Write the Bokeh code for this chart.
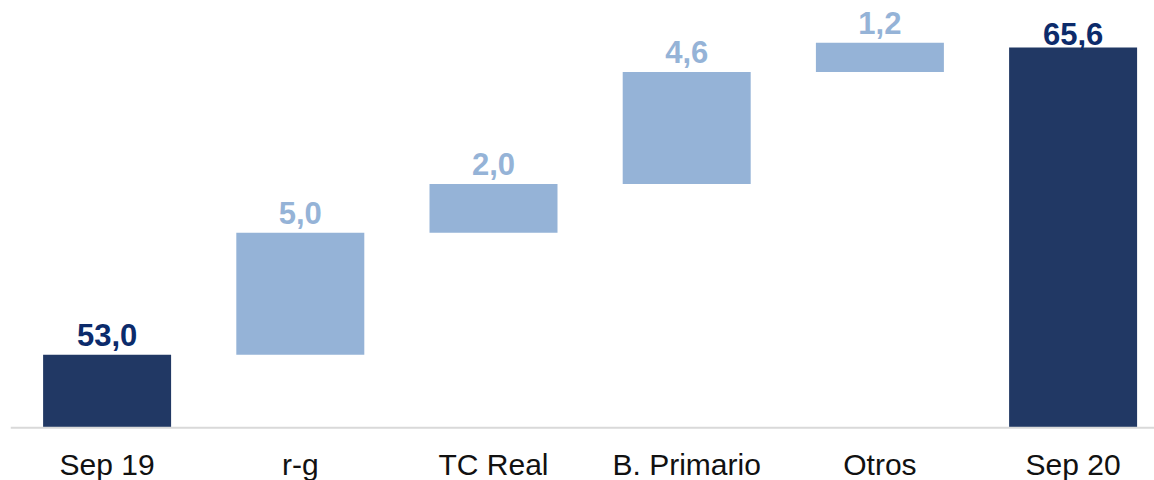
from bokeh.plotting import figure
from bokeh.models import ColumnDataSource, Range1d, FixedTicker, Span
from bokeh.core.properties import value
from bokeh.embed import file_html
from bokeh.resources import INLINE

categories = ["Sep 19", "r-g", "TC Real", "B. Primario", "Otros", "Sep 20"]
values = [53.0, 5.0, 2.0, 4.6, 1.2, 65.6]
kinds = ["total", "delta", "delta", "delta", "delta", "total"]
labels = ["53,0", "5,0", "2,0", "4,6", "1,2", "65,6"]

base = 50.0
DARK = "#213864"
LIGHT = "#95b3d7"
DARK_TXT = "#0c2b6b"

# waterfall geometry from values
bottoms, tops = [], []
running = 0.0
for v, k in zip(values, kinds):
    if k == "total":
        bottoms.append(base)
        tops.append(v)
        running = v
    else:
        bottoms.append(running)
        tops.append(running + v)
        running += v

xs = list(range(len(categories)))
fills = [DARK if k == "total" else LIGHT for k in kinds]
txt_colors = [DARK_TXT if k == "total" else LIGHT for k in kinds]
label_offsets = [-20, -20, -20, -20, -20, -14]

src = ColumnDataSource(dict(x=xs, bottom=bottoms, top=tops, fill=fills,
                            label=labels, tcol=txt_colors, yoff=label_offsets))

p = figure(output_backend="svg", toolbar_location=None,
           frame_width=1144, frame_height=422,
           x_range=Range1d(-0.5, -0.5 + 1144 / 193.2),
           y_range=Range1d(49.889, 67.2),
           y_axis_location=None,
           min_border_left=10, min_border_right=0, min_border_top=8, min_border_bottom=0)

p.vbar(x="x", bottom="bottom", top="top", width=0.6625, fill_color="fill",
       line_color=None, source=src)

p.text(x="x", y="top", text="label", y_offset="yoff", text_align="center",
       text_baseline="alphabetic", text_color="tcol", text_font=value("Liberation Sans"),
       text_font_size="31px", text_font_style="bold", source=src)

p.add_layout(Span(location=base, dimension="width", line_color="#d9d9d9",
                  line_width=2, level="overlay"))

p.xaxis.ticker = FixedTicker(ticks=xs)
p.xaxis.major_label_overrides = {i: c for i, c in zip(xs, categories)}
p.xaxis.axis_line_color = None
p.xaxis.major_tick_line_color = None
p.xaxis.minor_tick_line_color = None
p.xaxis.major_tick_out = 0
p.xaxis.major_tick_in = 0
p.xaxis.major_label_standoff = 17
p.xaxis.major_label_text_font = "Liberation Sans"
p.xaxis.major_label_text_font_size = "30px"
p.xaxis.major_label_text_color = "#111111"

p.xgrid.visible = False
p.ygrid.visible = False
p.outline_line_color = None
p.background_fill_color = "white"
p.border_fill_color = "white"

open("out.html", "w").write(file_html(p, INLINE))
